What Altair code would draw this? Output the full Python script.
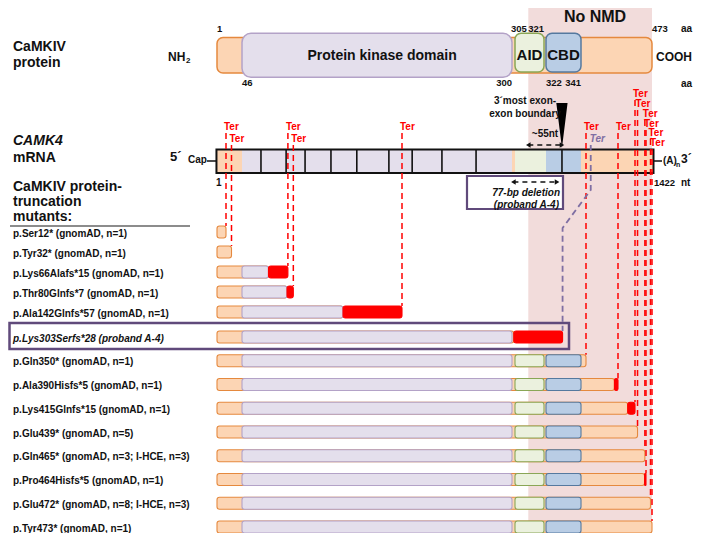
import altair as alt
import pandas as pd

# ---------------- data ----------------
PROTEIN_LEN_AA = 473
MRNA_LEN_NT = 1422
DOMAIN_NAMES = ["N-terminal", "Protein kinase domain", "linker", "AID", "CBD", "C-terminal"]
DOMAIN_START = [1, 46, 300, 305, 322, 341]
DOMAIN_END = [46, 300, 305, 321, 341, 473]
EXON_BOUNDARY_NT = [181, 238, 300, 386, 466, 559, 625, 707, 801, 992]
NMD_WINDOW_NT = 55
DELETION_START_NT = 907
DELETION_LEN_NT = 77

MUTANT_LABELS = [
    "p.Ser12* (gnomAD, n=1)",
    "p.Tyr32* (gnomAD, n=1)",
    "p.Lys66Alafs*15 (gnomAD, n=1)",
    "p.Thr80Glnfs*7 (gnomAD, n=1)",
    "p.Ala142Glnfs*57 (gnomAD, n=1)",
    "p.Lys303Serfs*28 (proband A-4)",
    "p.Gln350* (gnomAD, n=1)",
    "p.Ala390Hisfs*5 (gnomAD, n=1)",
    "p.Lys415Glnfs*15 (gnomAD, n=1)",
    "p.Glu439* (gnomAD, n=5)",
    "p.Gln465* (gnomAD, n=3; I-HCE, n=3)",
    "p.Pro464Hisfs*5 (gnomAD, n=1)",
    "p.Glu472* (gnomAD, n=8; I-HCE, n=3)",
    "p.Tyr473* (gnomAD, n=1)",
]
MUTANT_POS = [12, 32, 66, 80, 142, 303, 350, 390, 415, 439, 465, 464, 472, 473]
FRAMESHIFT_LEN = [0, 0, 15, 7, 57, 28, 0, 5, 15, 0, 0, 5, 0, 0]
PROBAND = 5

# ---------------- layout / style ----------------
FONT = "Liberation Sans"
W, H = 685, 525
M = 8
# schematic (non-proportional) aa -> pixel layout of the drawing
X_BREAK_AA = [1, 12, 32, 46, 80, 142, 199, 300, 305, 321, 322, 341, 350, 395, 430, 469, 473]
X_BREAK_PX = [217, 226, 231.5, 242, 287, 343, 402, 512, 515, 544, 546, 581, 586, 618, 635, 646, 652]

XS_AA = alt.Scale(domain=X_BREAK_AA, range=[p - M for p in X_BREAK_PX], nice=False, zero=False)
XS_PX = alt.Scale(domain=[M, M + W], range=[0, W], nice=False, zero=False)
YS = alt.Scale(domain=[M, M + H], range=[0, H], nice=False, zero=False)


def row_y(i):
    return 232 + 20 * i if i <= 4 else 337 + (i - 5) * 23.75


# staggered heights of the "Ter" labels
TER_TIER = {0: 127, 1: 139, 2: 127, 3: 139, 4: 127, 6: 127, 7: 127,
            8: 94, 9: 104, 10: 114, 11: 124, 12: 133, 13: 143}

OR_F, OR_S = "#fcd5b4", "#e5893e"
PU_F, PU_S = "#e4dfec", "#b3a2c7"
GR_F, GR_S = "#ebf1de", "#8aa656"
BL_F, BL_S = "#b9cde5", "#55799f"
RED = "#ff0000"
PINK = "#f2dcdb"
PROB = "#604a7b"
TERPU = "#7f6fa3"
DOM_FILL = {"N-terminal": OR_F, "Protein kinase domain": PU_F, "linker": OR_F,
            "AID": GR_F, "CBD": BL_F, "C-terminal": OR_F}
DOM_STROKE = {"N-terminal": OR_S, "Protein kinase domain": PU_S, "linker": OR_S,
              "AID": GR_S, "CBD": BL_S, "C-terminal": OR_S}


def XA(f="x"):
    return alt.X(f"{f}:Q", scale=XS_AA, axis=None)


def XP(f="x"):
    return alt.X(f"{f}:Q", scale=XS_PX, axis=None)


def YP(f="y"):
    return alt.Y(f"{f}:Q", scale=YS, axis=None)


FILL = alt.Fill("fill:N", scale=None, legend=None)
STROKE = alt.Stroke("stroke:N", scale=None, legend=None)

layers = []

# ---- No-NMD background region ----
nmd_start = (EXON_BOUNDARY_NT[-1] - NMD_WINDOW_NT) / 3
bg = pd.DataFrame({"x": [nmd_start], "x2": [PROTEIN_LEN_AA]})
layers.append(alt.Chart(bg).mark_rect(color=PINK).encode(
    x=XA(), x2="x2:Q", y=alt.value(0), y2=alt.value(H)))

# ---- protein diagram ----
prot_base = pd.DataFrame({"x": [DOMAIN_START[0]], "x2": [PROTEIN_LEN_AA], "y": [37.5], "y2": [73],
                          "fill": [OR_F], "stroke": [OR_S]})
layers.append(alt.Chart(prot_base).mark_rect(cornerRadius=6, strokeWidth=1.5).encode(
    x=XA(), x2="x2:Q", y=YP(), y2="y2:Q", fill=FILL, stroke=STROKE))
kin = [(s, e, n) for n, s, e in zip(DOMAIN_NAMES, DOMAIN_START, DOMAIN_END) if n == "Protein kinase domain"]
kin_df = pd.DataFrame({"x": [k[0] for k in kin], "x2": [k[1] for k in kin], "y": [33.3], "y2": [77.3],
                       "fill": [PU_F], "stroke": [PU_S]})
layers.append(alt.Chart(kin_df).mark_rect(cornerRadius=9, strokeWidth=1.5).encode(
    x=XA(), x2="x2:Q", y=YP(), y2="y2:Q", fill=FILL, stroke=STROKE))
reg = [(s, e, n) for n, s, e in zip(DOMAIN_NAMES, DOMAIN_START, DOMAIN_END) if n in ("AID", "CBD")]
reg_df = pd.DataFrame({"x": [r[0] for r in reg], "x2": [r[1] for r in reg], "y": 33.3, "y2": 72,
                       "fill": [DOM_FILL[r[2]] for r in reg], "stroke": [DOM_STROKE[r[2]] for r in reg]})
layers.append(alt.Chart(reg_df).mark_rect(cornerRadius=6, strokeWidth=1.5).encode(
    x=XA(), x2="x2:Q", y=YP(), y2="y2:Q", fill=FILL, stroke=STROKE))

# domain names
kn = pd.DataFrame({"x": [(kin[0][0] + kin[0][1]) / 2], "y": [56], "t": ["Protein kinase domain"]})
layers.append(alt.Chart(kn).mark_text(font=FONT, fontWeight="bold", fontSize=14, dx=7, color="#111").encode(
    x=XA(), y=YP(), text="t:N"))
rn = pd.DataFrame({"x": [(r[0] + r[1]) / 2 for r in reg], "y": 55, "t": [r[2] for r in reg]})
layers.append(alt.Chart(rn).mark_text(font=FONT, fontWeight="bold", fontSize=15, color="#111").encode(
    x=XA(), y=YP(), text="t:N"))

# position numbers around the protein
num_left = pd.DataFrame({"x": [1, 46, 322, 473], "y": [29, 83, 83, 29],
                         "t": ["1", "46", "322", "473"]})
layers.append(alt.Chart(num_left).mark_text(font=FONT, fontWeight="bold", fontSize=9.5, align="left", dx=0,
                                            color="#111").encode(x=XA(), y=YP(), text="t:N"))
num_305 = pd.DataFrame({"x": [305], "y": [29], "t": ["305"]})
layers.append(alt.Chart(num_305).mark_text(font=FONT, fontWeight="bold", fontSize=9.5, align="left", dx=-4,
                                           color="#111").encode(x=XA(), y=YP(), text="t:N"))
num_right = pd.DataFrame({"x": [300, 321, 341], "y": [83, 29, 83], "t": ["300", "321", "341"]})
layers.append(alt.Chart(num_right).mark_text(font=FONT, fontWeight="bold", fontSize=9.5, align="right", dx=0,
                                             color="#111").encode(x=XA(), y=YP(), text="t:N"))

# ---- mRNA ----
mrna_end = MRNA_LEN_NT / 3
m_fill = pd.DataFrame({
    "x": DOMAIN_START,
    "x2": DOMAIN_START[1:] + [mrna_end],
    "y": 149.5, "y2": 173,
    "fill": [DOM_FILL[n] for n in DOMAIN_NAMES]})
layers.append(alt.Chart(m_fill).mark_rect().encode(x=XA(), x2="x2:Q", y=YP(), y2="y2:Q", fill=FILL))
ex = pd.DataFrame({"x": [n / 3 for n in EXON_BOUNDARY_NT], "y": 149.5, "y2": 173})
layers.append(alt.Chart(ex).mark_rule(color="#111", strokeWidth=1.6).encode(x=XA(), y=YP(), y2="y2:Q"))
box = pd.DataFrame({"x": [1 / 3], "x2": [mrna_end], "y": [149.5], "y2": [173]})
layers.append(alt.Chart(box).mark_rect(fill=None, stroke="#111", strokeWidth=2).encode(
    x=XA(), x2="x2:Q", y=YP(), y2="y2:Q"))

# ---- mutant bars ----
segs = []
for i, (pos, fs) in enumerate(zip(MUTANT_POS, FRAMESHIFT_LEN)):
    y = row_y(i)
    segs.append(dict(x=1, x2=pos, y=y - 6, y2=y + 6, fill=OR_F, stroke=OR_S))
    for n, s, e in zip(DOMAIN_NAMES, DOMAIN_START, DOMAIN_END):
        if n in ("Protein kinase domain", "AID", "CBD") and pos > s:
            segs.append(dict(x=s, x2=min(e, pos), y=y - 6, y2=y + 6, fill=DOM_FILL[n], stroke=DOM_STROKE[n]))
    if fs:
        segs.append(dict(x=pos, x2=pos + fs, y=y - 6, y2=y + 6, fill=RED, stroke=RED))
seg_df = pd.DataFrame(segs)
layers.append(alt.Chart(seg_df).mark_rect(cornerRadius=2.5, strokeWidth=1.1).encode(
    x=XA(), x2="x2:Q", y=YP(), y2="y2:Q", fill=FILL, stroke=STROKE))

# ---- Ter lines & labels ----
ter = []
for i, (pos, fs) in enumerate(zip(MUTANT_POS, FRAMESHIFT_LEN)):
    if i == PROBAND:
        continue
    ter.append(dict(x=pos + fs, y=TER_TIER[i] + 6, y2=row_y(i) - 6, ly=TER_TIER[i]))
ter_df = pd.DataFrame(ter)
layers.append(alt.Chart(ter_df).mark_rule(color=RED, strokeWidth=1.5, strokeDash=[6, 4]).encode(
    x=XA(), y=YP(), y2="y2:Q"))
layers.append(alt.Chart(ter_df).mark_text(font=FONT, fontWeight="bold", fontSize=10, color=RED, align="left",
                                          dx=-2, text="Ter").encode(x=XA(), y=YP("ly")))

# proband: new stop shown on mRNA after the 77-bp deletion
pstop = MUTANT_POS[PROBAND] + FRAMESHIFT_LEN[PROBAND]
p_mrna = (pstop * 3 + DELETION_LEN_NT) / 3
ppath = pd.DataFrame({"x": [p_mrna, p_mrna, pstop, pstop], "y": [145, 190, 228, row_y(PROBAND) - 6],
                      "o": [0, 1, 2, 3]})
layers.append(alt.Chart(ppath).mark_line(color=TERPU, strokeWidth=1.8, strokeDash=[6, 4]).encode(
    x=XA(), y=YP(), order="o:Q"))
pl = pd.DataFrame({"x": [p_mrna], "y": [139]})
layers.append(alt.Chart(pl).mark_text(font=FONT, fontWeight="bold", fontStyle="italic", fontSize=10, color=TERPU,
                                      align="left", dx=-1, text="Ter").encode(x=XA(), y=YP()))

# ---- 3' most exon-exon boundary marker ----
tri = pd.DataFrame({"x": [EXON_BOUNDARY_NT[-1] / 3], "y": [125.5]})
layers.append(alt.Chart(tri).mark_point(shape="M-0.25,-1L0.25,-1L0,1Z", size=2025, filled=True, color="#000",
                                        opacity=1).encode(x=XA(), y=YP()))


def dashed_arrow(x_from, x_to, y):
    d = pd.DataFrame({"x": [x_from], "x2": [x_to], "y": [y]})
    ln = alt.Chart(d).mark_rule(color="#111", strokeWidth=1.6, strokeDash=[5, 4]).encode(
        x=XA(), x2="x2:Q", y=YP())
    h = pd.DataFrame({"x": [x_from, x_to], "y": [y, y], "shape": ["triangle-left", "triangle-right"]})
    hd = alt.Chart(h).mark_point(filled=True, color="#111", size=28, opacity=1).encode(
        x=XA(), y=YP(), shape=alt.Shape("shape:N", scale=None, legend=None))
    return [ln, hd]


layers += dashed_arrow(nmd_start, EXON_BOUNDARY_NT[-1] / 3, 145)
nt55 = pd.DataFrame({"x": [(nmd_start + EXON_BOUNDARY_NT[-1] / 3) / 2], "y": [134], "t": ["~%dnt" % NMD_WINDOW_NT]})
layers.append(alt.Chart(nt55).mark_text(font=FONT, fontWeight="bold", fontSize=10, color="#111").encode(
    x=XA(), y=YP(), text="t:N"))

# deletion box
dbox = pd.DataFrame({"x": [467], "x2": [563], "y": [176], "y2": [209]})
layers.append(alt.Chart(dbox).mark_rect(fill="white", stroke=PROB, strokeWidth=2.2).encode(
    x=XP(), x2="x2:Q", y=YP(), y2="y2:Q"))
layers += dashed_arrow(DELETION_START_NT / 3, (DELETION_START_NT + DELETION_LEN_NT) / 3, 182)

# proband highlight box
hbox = pd.DataFrame({"x": [9.5], "x2": [569], "y": [323], "y2": [349]})
layers.append(alt.Chart(hbox).mark_rect(fill=None, stroke=PROB, strokeWidth=2.5).encode(
    x=XP(), x2="x2:Q", y=YP(), y2="y2:Q"))

# small connector lines (cap, poly-A, underline)
lines = pd.DataFrame({"x": [207, 653, 10], "x2": [217, 662, 190], "y": [161, 161, 226],
                      "stroke": ["#111", "#111", "#666"]})
layers.append(alt.Chart(lines).mark_rule(strokeWidth=1.5).encode(
    x=XP(), x2="x2:Q", y=YP(), stroke=STROKE))


# ---- free text labels ----
def px_text(items, align="left", style="normal"):
    d = pd.DataFrame(items, columns=["x", "y", "t", "s"])
    return alt.Chart(d).mark_text(align=align, baseline="middle", font=FONT, fontWeight="bold",
                                  fontStyle=style, color="#111").encode(
        x=XP(), y=YP(), text="t:N", size=alt.Size("s:Q", scale=None, legend=None))


layers.append(px_text([
    (13, 47, "CaMKIV", 14), (13, 63, "protein", 14),
    (168, 57, "NH", 12), (186, 61, "2", 8),
    (656, 57, "COOH", 12), (681, 29, "aa", 10), (681, 84, "aa", 10),
    (13, 158, "mRNA", 14),
    (170, 157, "5´", 13), (188, 160, "Cap", 10),
    (663, 161, "(A)", 10), (676, 165, "n", 7), (681, 159, "3´", 12),
    (216, 183, "1", 10), (654, 183, "1422", 9.5), (681, 183, "nt", 10),
    (13, 187, "CaMKIV protein-", 14), (13, 202, "truncation", 14), (13, 217, "mutants:", 14),
]))
layers.append(px_text([(13, 141, "CAMK4", 14)], style="italic"))
layers.append(px_text([
    (595, 17, "No NMD", 16),
    (525, 101, "3´most exon-", 10), (525, 114, "exon boundary", 10),
], align="center"))
layers.append(px_text([(560, 193, "77-bp deletion", 10), (559, 205, "(proband A-4)", 10)],
                      align="right", style="italic"))

# row labels
lab = pd.DataFrame({"y": [row_y(i) + 1.5 for i in range(len(MUTANT_LABELS))], "t": MUTANT_LABELS,
                    "p": [i == PROBAND for i in range(len(MUTANT_LABELS))]})
layers.append(alt.Chart(lab[~lab.p]).mark_text(align="left", baseline="middle", font=FONT, fontWeight="bold",
                                               fontSize=10, color="#111").encode(
    x=alt.value(13 - M), y=YP(), text="t:N"))
layers.append(alt.Chart(lab[lab.p]).mark_text(align="left", baseline="middle", font=FONT, fontWeight="bold",
                                              fontStyle="italic", fontSize=10, color="#111").encode(
    x=alt.value(13 - M), y=YP(), text="t:N"))

chart = alt.layer(*layers).resolve_scale(x="independent").properties(
    width=W, height=H, padding=0, autosize="none"
).configure_view(stroke=None)

chart.save("out.html", embed_options={"renderer": "svg", "actions": False})
